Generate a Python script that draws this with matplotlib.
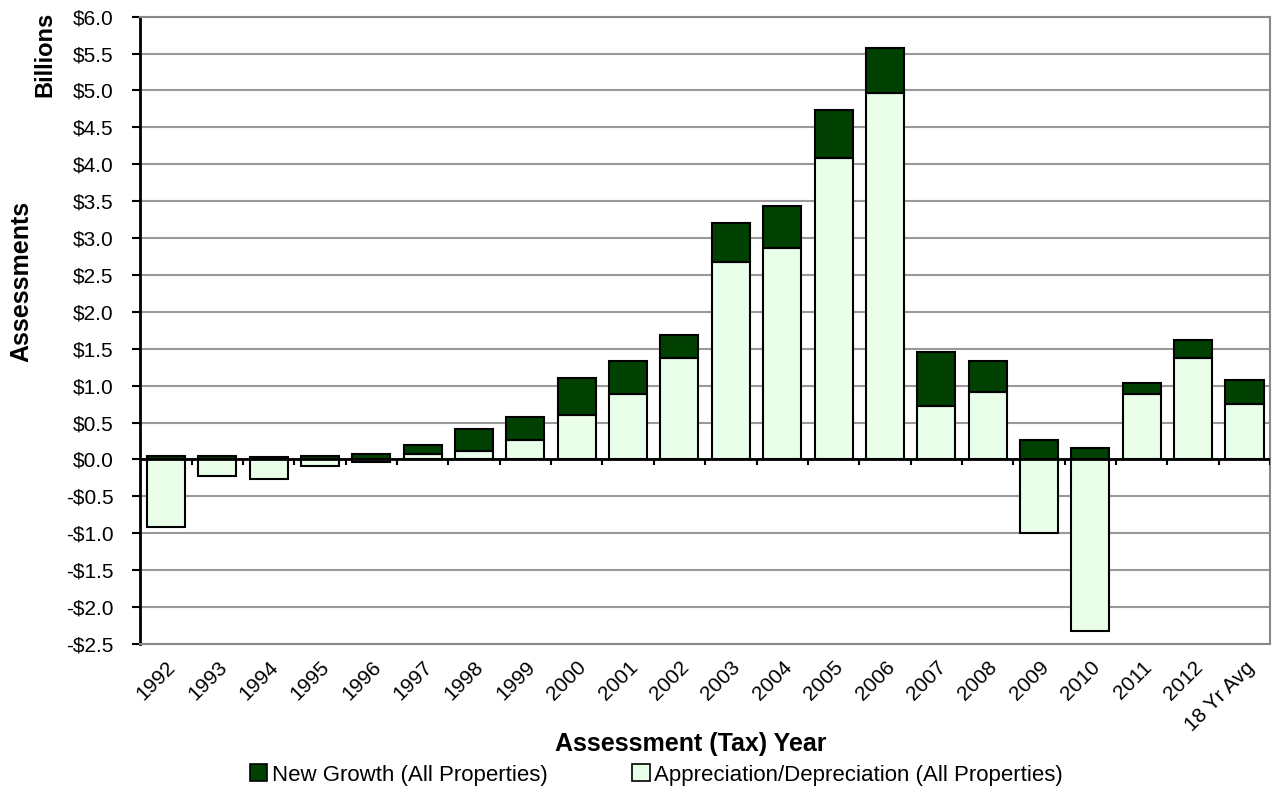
import numpy as np
import matplotlib
matplotlib.use("Agg")
import matplotlib.pyplot as plt
from matplotlib.patches import Patch

plt.rcParams['font.family'] = ['Liberation Sans', 'DejaVu Sans']

years = ['1992', '1993', '1994', '1995', '1996', '1997', '1998', '1999', '2000',
         '2001', '2002', '2003', '2004', '2005', '2006', '2007', '2008', '2009',
         '2010', '2011', '2012', '18 Yr Avg']
# billions of dollars
appreciation = [-0.91, -0.22, -0.27, -0.09, -0.04, 0.07, 0.11, 0.26, 0.60,
                0.89, 1.38, 2.67, 2.86, 4.08, 4.97, 0.72, 0.91, -1.00,
                -2.33, 0.89, 1.37, 0.75]
new_growth = [0.05, 0.05, 0.03, 0.05, 0.08, 0.12, 0.30, 0.32, 0.51,
              0.44, 0.30, 0.53, 0.58, 0.66, 0.60, 0.74, 0.43, 0.26,
              0.15, 0.14, 0.25, 0.33]

dark = '#004000'
light = '#EAFFEA'

fig = plt.figure(figsize=(12.74, 7.94), dpi=100)
ax = fig.add_axes([0.110, 0.189, 0.887, 0.790])

x = np.arange(len(years))
appr = np.array(appreciation)
ng = np.array(new_growth)
ng_base = np.maximum(appr, 0)  # new growth sits on zero when appreciation is negative

ax.bar(x, appr, width=0.74, color=light, edgecolor='black', linewidth=1.5, zorder=3)
ax.bar(x, ng, width=0.74, bottom=ng_base, color=dark, edgecolor='black', linewidth=1.5, zorder=3)

ax.set_xlim(-0.5, len(years) - 0.5)
ax.set_ylim(-2.5, 6.0)
yt = np.arange(-2.5, 6.01, 0.5)
ax.set_yticks(yt)
ax.set_yticklabels([('-$%.1f' % -v) if v < -1e-9 else ('$%.1f' % abs(v)) for v in yt], fontsize=15)
ax.yaxis.grid(True, color='#999999', linewidth=1.5, zorder=0)
ax.tick_params(axis='y', direction='out', length=6, width=1.5, pad=13)

ax.set_xticks(x)
ax.set_xticklabels(years, rotation=45, ha='right', rotation_mode='anchor', fontsize=15)
ax.tick_params(axis='x', length=0, pad=10)

# zero line with ticks between categories
ax.axhline(0, color='black', linewidth=2, zorder=4)
ax.vlines(np.arange(len(years) + 1) - 0.5, -0.08, 0, color='black', linewidth=1.5, zorder=4)

for side in ['top', 'right', 'bottom']:
    ax.spines[side].set_color('#888888')
    ax.spines[side].set_linewidth(1.5)
ax.spines['left'].set_color('black')
ax.spines['left'].set_linewidth(2)

ax.set_xlabel('Assessment (Tax) Year', fontsize=18, fontweight='bold')
ax.xaxis.set_label_coords(0.487, -0.14)
fig.text(0.017, 0.645, 'Assessments', rotation=90, fontsize=18, fontweight='bold',
         ha='center', va='center')
fig.text(0.035, 0.932, 'Billions', rotation=90, fontsize=17, fontweight='bold',
         ha='center', va='center')

handles = [Patch(facecolor=dark, edgecolor='black', linewidth=1.2),
           Patch(facecolor=light, edgecolor='black', linewidth=1.2)]
fig.legend(handles, ['New Growth (All Properties)', 'Appreciation/Depreciation (All Properties)'],
           loc='center left', bbox_to_anchor=(0.196, 0.024), ncol=2, frameon=False, fontsize=16,
           handlelength=0.8, handleheight=0.8, handletextpad=0.2, columnspacing=3.8,
           borderaxespad=0, borderpad=0)

fig.savefig('out.png', dpi=100)
